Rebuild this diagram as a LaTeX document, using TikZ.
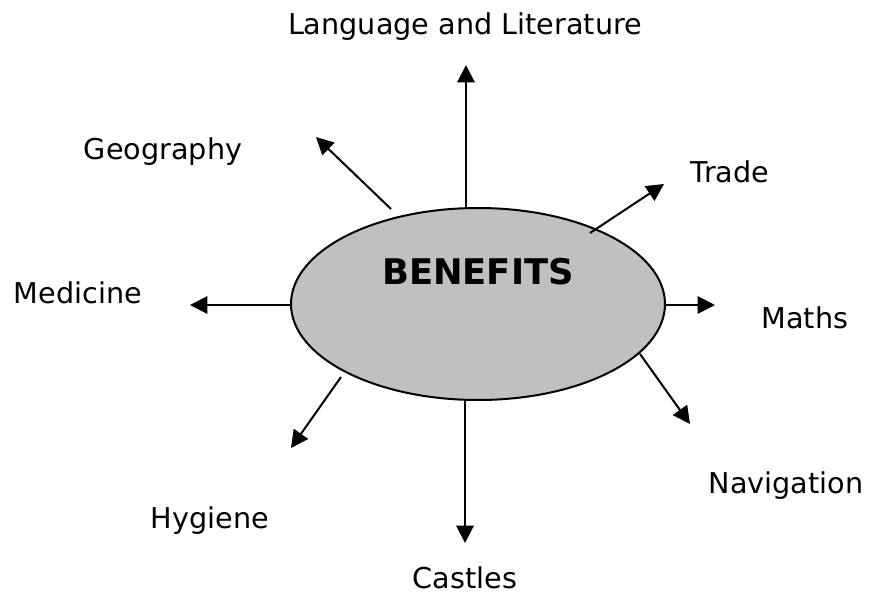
\documentclass[tikz,border=0pt]{standalone}
\usepackage{fontspec}
\setmainfont{DejaVu Sans}
\usetikzlibrary{arrows.meta,shapes.geometric}
\begin{document}
\begin{tikzpicture}[x=0.75pt,y=-0.75pt,
  lbl/.style={font=\fontsize{21.5}{25}\selectfont, inner sep=0pt},
  arr/.style={line width=1.5pt,-{Triangle[length=13pt,width=13pt]}}]
\useasboundingbox (0,0) rectangle (872,596);
\node[draw,line width=1.5pt,fill={rgb,255:red,192;green,192;blue,192},ellipse,minimum width=280.5pt,minimum height=144pt,inner sep=0pt] (ben) at (478,304) {};
\node[font=\fontsize{26.5}{30}\selectfont\bfseries, inner sep=0pt] (bt) at (478,272) {BENEFITS};
\node[lbl] (lang) at (465,27) {Language and Literature};
\node[lbl] (geo) at (163,152) {Geography};
\node[lbl] (trade) at (730,172) {Trade};
\node[lbl] (med) at (78,293) {Medicine};
\node[lbl] (maths) at (805,318) {Maths};
\node[lbl] (nav) at (786,486) {Navigation};
\node[lbl] (hyg) at (210,521) {Hygiene};
\node[lbl] (cas) at (465,578) {Castles};
% arrow coordinates
\coordinate (s1) at (466,208); \coordinate (e1) at (466,65);
\coordinate (s2) at (391,209); \coordinate (e2) at (316,137);
\coordinate (s3) at (590,233); \coordinate (e3) at (664,184);
\coordinate (s4) at (291,305); \coordinate (e4) at (190,305);
\coordinate (s5) at (665,305); \coordinate (e5) at (715,305);
\coordinate (s6) at (341,377); \coordinate (e6) at (291,448);
\coordinate (s7) at (465,400); \coordinate (e7) at (465,543);
\coordinate (s8) at (640,354); \coordinate (e8) at (690,424);
\foreach \i in {1,...,8} {\draw[arr] (s\i) -- (e\i);}
\end{tikzpicture}
\end{document}
